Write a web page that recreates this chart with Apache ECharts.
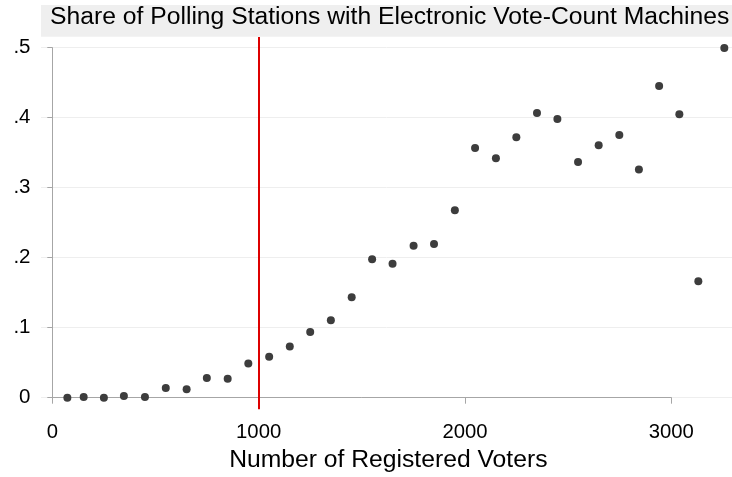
<!DOCTYPE html>
<html>
<head>
<meta charset="utf-8">
<script src="https://cdn.jsdelivr.net/npm/echarts@6/dist/echarts.min.js"></script>
<style>
html,body{margin:0;padding:0;background:#fff;}
#chart{width:732px;height:477px;}
</style>
</head>
<body>
<div id="chart"></div>
<script>
// ---- data ----
const titleText = 'Share of Polling Stations with Electronic Vote-Count Machines';
const xAxisTitle = 'Number of Registered Voters';
const registeredVoters = [73, 152, 250, 347, 449, 550, 651, 749, 850, 950, 1051, 1151, 1250, 1350, 1451, 1550, 1649, 1751, 1850, 1951, 2049, 2150, 2249, 2349, 2448, 2548, 2648, 2748, 2843, 2941, 3039, 3131, 3257];
const evmShare = [0, 0.001, 0, 0.0024, 0.001, 0.0139, 0.012, 0.028, 0.027, 0.049, 0.0586, 0.073, 0.094, 0.1105, 0.1434, 0.1977, 0.1914, 0.217, 0.2196, 0.2677, 0.3567, 0.342, 0.372, 0.4067, 0.398, 0.3367, 0.3605, 0.3753, 0.326, 0.4453, 0.4048, 0.1663, 0.4996];
const threshold = 1000;
const xTicks = [0, 1000, 2000, 3000];
const yTicks = [0, 0.1, 0.2, 0.3, 0.4, 0.5];

const FONT = '"Liberation Sans", Arial, Helvetica, sans-serif';
const AXIS_COLOR = '#a6a6a6';
const points = registeredVoters.map((v, i) => [v, evmShare[i]]);
const yFmt = v => {
  const s = String(+(+v).toFixed(1));
  return s === '0' ? '0' : s.replace(/^0/, '');
};
const xFmt = v => String(Math.round(v));

const chart = echarts.init(document.getElementById('chart'), null, {renderer: 'canvas'});
chart.setOption({
  backgroundColor: '#ffffff',
  animation: false,
  title: {
    text: titleText,
    right: 2.7,
    top: 5,
    padding: 0,
    textStyle: {fontFamily: FONT, fontSize: 24.7, fontWeight: 'normal', color: '#000000'}
  },
  graphic: [
    {type: 'rect', z: -10, shape: {x: 41, y: 5, width: 691, height: 31.7}, style: {fill: '#efefef'}},
    {type: 'text', x: 388.3, y: 459.7, style: {text: xAxisTitle, align: 'center', verticalAlign: 'middle', font: '24.7px ' + FONT, fill: '#000000'}}
  ],
  grid: [
    {left: 41, right: 0, top: 47.7, height: 350},
    {left: 52.3, width: 619, top: 47.7, height: 350},
    {left: 52.3, width: 619, top: 37, bottom: 67.7}
  ],
  xAxis: [
    {gridIndex: 0, type: 'value', min: xTicks[0], max: xTicks[xTicks.length - 1], show: false, splitLine: {show: false}},
    {gridIndex: 1, type: 'value', min: xTicks[0], max: xTicks[xTicks.length - 1], interval: 1000, offset: 11.6,
      axisLine: {show: true, lineStyle: {color: AXIS_COLOR, width: 1}},
      axisTick: {show: true, length: 6, lineStyle: {color: AXIS_COLOR}},
      axisLabel: {margin: 13, fontFamily: FONT, fontSize: 20.3, color: '#000000', formatter: xFmt},
      splitLine: {show: false}},
    {gridIndex: 2, type: 'value', min: xTicks[0], max: xTicks[xTicks.length - 1], show: false, splitLine: {show: false}}
  ],
  yAxis: [
    {gridIndex: 0, type: 'value', min: yTicks[0], max: yTicks[yTicks.length - 1], interval: 0.1,
      axisLine: {show: false}, axisTick: {show: false}, axisLabel: {show: false},
      splitLine: {show: true, lineStyle: {color: '#eeeeee', width: 1}}},
    {gridIndex: 1, type: 'value', min: yTicks[0], max: yTicks[yTicks.length - 1], interval: 0.1, offset: 11.3,
      axisLine: {show: true, lineStyle: {color: AXIS_COLOR, width: 1}},
      axisTick: {show: true, length: 5, lineStyle: {color: AXIS_COLOR}},
      axisLabel: {margin: 10.5, fontFamily: FONT, fontSize: 20.5, color: '#000000', formatter: yFmt},
      splitLine: {show: false}},
    {gridIndex: 2, type: 'value', min: 0, max: 1, show: false, splitLine: {show: false}}
  ],
  series: [
    {
      type: 'scatter', xAxisIndex: 2, yAxisIndex: 2, data: [], z: 3, silent: true,
      markLine: {
        silent: true, symbol: 'none', label: {show: false}, animation: false,
        lineStyle: {color: '#dd0000', width: 2, type: 'solid'},
        data: [{xAxis: threshold}]
      }
    },
    {
      type: 'scatter', xAxisIndex: 1, yAxisIndex: 1, clip: false, z: 5,
      symbol: 'circle', symbolSize: 8,
      itemStyle: {color: '#3d3d3d', opacity: 1},
      data: points
    }
  ]
});
</script>
</body>
</html>
